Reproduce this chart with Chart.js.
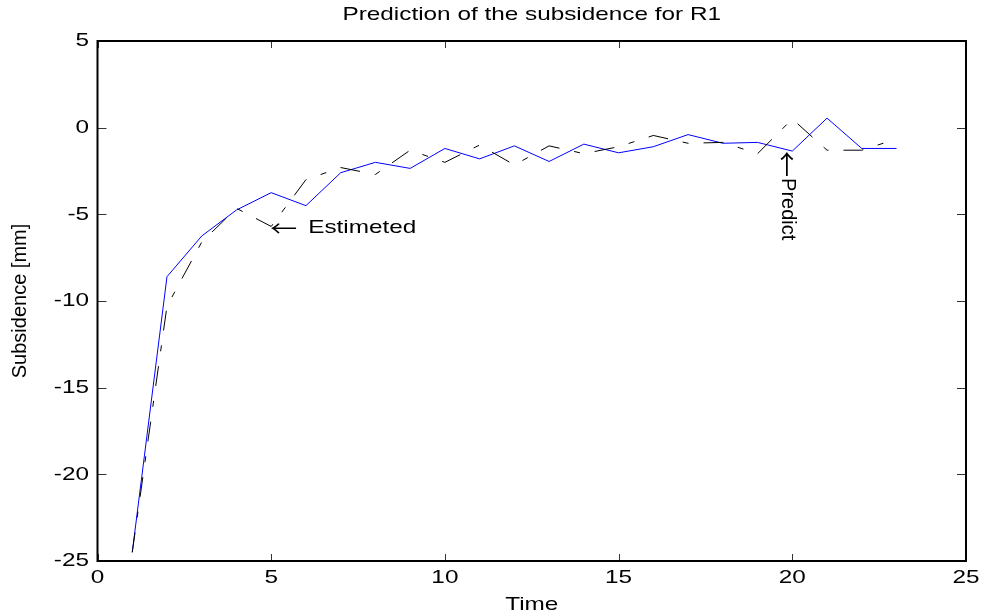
<!DOCTYPE html>
<html>
<head>
<meta charset="utf-8">
<title>Prediction of the subsidence for R1</title>
<script src="https://cdn.jsdelivr.net/npm/chart.js@4.4.0/dist/chart.umd.min.js"></script>
<style>
  html, body { margin: 0; padding: 0; background: #fff; }
  canvas { display: block; }
</style>
</head>
<body>
<canvas id="subsidence-chart" width="984" height="616"></canvas>
<script>
// Time steps and subsidence [mm]
var times = [1, 2, 3, 4, 5, 6, 7, 8, 9, 10, 11, 12, 13, 14, 15, 16, 17, 18, 19, 20, 21, 22, 23];
var measured = [-24.5, -8.6, -6.25, -4.75, -3.75, -4.5, -2.6, -2.0, -2.35, -1.2, -1.8, -1.05,
                -1.95, -0.95, -1.45, -1.1, -0.4, -0.9, -0.85, -1.35, 0.55, -1.2, -1.2];
var estimated = [-24.5, -10.3, -6.6, -4.65, -5.7, -3.0, -2.3, -2.7, -1.3, -2.0, -1.0, -2.15,
                 -1.05, -1.5, -1.1, -0.45, -0.9, -0.85, -1.5, 0.5, -1.3, -1.3, -0.65];
var xTicks = [0, 5, 10, 15, 20, 25];
var yTicks = [-25, -20, -15, -10, -5, 0, 5];

// text notes, anchored in data units
var estimatedNote = { x: 5, y: -5.8, text: 'Estimeted' };
var predictNote = { x: 20, y: -1.35, text: 'Predict' };

var FONT = '"Liberation Sans", Arial, Helvetica, sans-serif';
var ARROW_FONT = '"Noto Sans CJK JP", "DejaVu Sans", sans-serif';

function points(ys) {
  return times.map(function (t, i) { return { x: t, y: ys[i] }; });
}

// the old figure renders horizontal text quite wide, so stretch it a bit
var wideText = {
  id: 'wideText',
  beforeInit: function (chart) {
    var ctx = chart.ctx;
    var fill = ctx.fillText.bind(ctx);
    ctx.fillText = function (text, x, y) {
      var m = ctx.getTransform();
      if (m.b !== 0 || m.c !== 0) { fill(text, x, y); return; }
      ctx.save();
      ctx.translate(x, y);
      ctx.scale(1.28, 1);
      fill(text, 0, 0);
      ctx.restore();
    };
  }
};

// box round the plot with inward ticks on every side
var boxAxes = {
  id: 'boxAxes',
  afterDatasetsDraw: function (chart) {
    var ctx = chart.ctx, a = chart.chartArea;
    var xs = chart.scales.x, ys = chart.scales.y;
    ctx.save();
    ctx.strokeStyle = '#333';
    ctx.lineWidth = 1;
    ctx.beginPath();
    xs.ticks.forEach(function (t) {
      var px = Math.round(xs.getPixelForValue(t.value)) + 0.5;
      ctx.moveTo(px, a.bottom); ctx.lineTo(px, a.bottom - 7);
      ctx.moveTo(px, a.top); ctx.lineTo(px, a.top + 7);
    });
    ys.ticks.forEach(function (t) {
      var py = Math.round(ys.getPixelForValue(t.value)) + 0.5;
      ctx.moveTo(a.left, py); ctx.lineTo(a.left + 9, py);
      ctx.moveTo(a.right, py); ctx.lineTo(a.right - 9, py);
    });
    ctx.stroke();
    ctx.strokeStyle = '#000';
    ctx.lineWidth = 2;
    ctx.strokeRect(a.left, a.top, a.right - a.left, a.bottom - a.top);
    ctx.restore();
  }
};

var notes = {
  id: 'notes',
  afterDraw: function (chart) {
    var ctx = chart.ctx, xs = chart.scales.x, ys = chart.scales.y;
    ctx.save();
    ctx.fillStyle = '#000';
    ctx.textAlign = 'left';
    ctx.textBaseline = 'middle';

    // "<- Estimeted", pointing left at x = 5
    var ex = xs.getPixelForValue(estimatedNote.x);
    var ey = ys.getPixelForValue(estimatedNote.y);
    ctx.font = '21px ' + ARROW_FONT;
    ctx.fillText('\u2190', ex - 1, ey);
    ctx.font = '19px ' + FONT;
    ctx.fillText(estimatedNote.text, ex + 37, ey);

    // "<-Predict", turned to read downwards, arrow pointing up at x = 20
    ctx.translate(xs.getPixelForValue(predictNote.x), ys.getPixelForValue(predictNote.y));
    ctx.rotate(Math.PI / 2);
    ctx.font = '26px ' + ARROW_FONT;
    ctx.fillText('\u2190', 0, 5);
    ctx.font = '20px ' + FONT;
    ctx.fillText(predictNote.text, 27, 5);
    ctx.restore();
  }
};

var ctx = document.getElementById('subsidence-chart').getContext('2d');
var chart = new Chart(ctx, {
  type: 'line',
  data: {
    datasets: [{
      label: 'Estimated',
      data: points(estimated),
      borderColor: '#000',
      borderWidth: 1,
      borderDash: [20, 15, 6, 15],
      pointRadius: 0,
      tension: 0,
      fill: false
    }, {
      label: 'Measured',
      data: points(measured),
      borderColor: '#0000ff',
      borderWidth: 1,
      pointRadius: 0,
      tension: 0,
      fill: false
    }]
  },
  options: {
    responsive: false,
    animation: false,
    layout: { padding: { left: 0, right: 18, top: 0, bottom: 0 } },
    plugins: {
      legend: { display: false },
      tooltip: { enabled: false },
      title: {
        display: true,
        fullSize: false,
        text: 'Prediction of the subsidence for R1',
        color: '#000',
        font: { family: FONT, size: 19, weight: 'normal' },
        padding: { top: 3, bottom: 15.2 }
      }
    },
    scales: {
      x: {
        type: 'linear',
        min: 0,
        max: 25,
        afterBuildTicks: function (s) { s.ticks = xTicks.map(function (v) { return { value: v }; }); },
        afterFit: function (s) { s.height = 55; },
        grid: { display: false, drawTicks: false },
        border: { display: false },
        ticks: { color: '#000', font: { family: FONT, size: 19 }, padding: 5, maxRotation: 0 },
        title: {
          display: true,
          text: 'Time',
          color: '#000',
          font: { family: FONT, size: 19 },
          padding: { top: 0, bottom: 0 }
        }
      },
      y: {
        min: -25,
        max: 5,
        afterBuildTicks: function (s) { s.ticks = yTicks.map(function (v) { return { value: v }; }); },
        afterFit: function (s) { s.width = 97.5; },
        grid: { display: false, drawTicks: false },
        border: { display: false },
        ticks: { color: '#000', font: { family: FONT, size: 19 }, padding: 8.5 },
        title: {
          display: true,
          text: 'Subsidence [mm]',
          color: '#000',
          font: { family: FONT, size: 20 },
          padding: { top: 8, bottom: 0 }
        }
      }
    }
  },
  plugins: [wideText, boxAxes, notes]
});
</script>
</body>
</html>
